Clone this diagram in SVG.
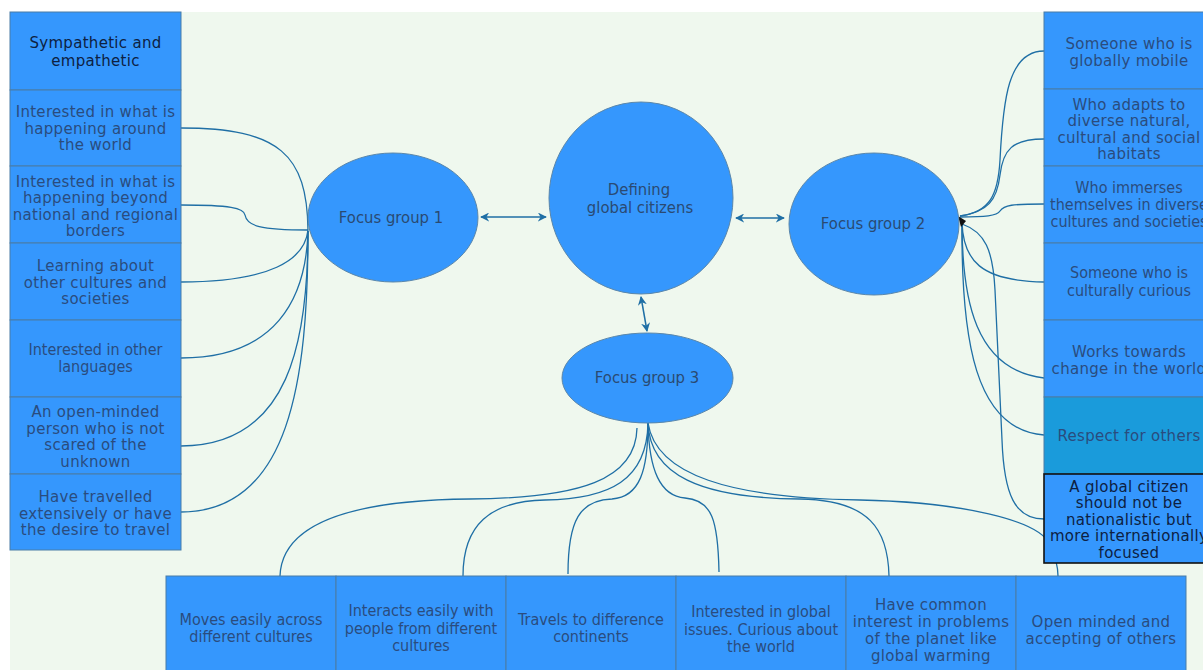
<svg xmlns="http://www.w3.org/2000/svg" width="1203" height="670" viewBox="0 0 1203 670">
  <defs>
    <style>
      .bg { fill: #eff8ee; }
      .box { fill: #3597fd; stroke: #4a7ca6; stroke-width: 1; }
      .box-teal { fill: #1a9bdb; stroke: #4a7ca6; stroke-width: 1; }
      .box-dark { fill: #3597fd; stroke: #111111; stroke-width: 1.6; }
      .oval { fill: #3597fd; stroke: #5b87aa; stroke-width: 1; }
      .wire { fill: none; stroke: #1f6fa5; stroke-width: 1.3; }
      .link { fill: none; stroke: #1f6fa5; stroke-width: 1.5; }
      text { text-anchor: middle; }
      .v { font-family: "DejaVu Sans", Verdana, sans-serif; font-size: 15px; letter-spacing: 0.3px; fill: #2a4c7e; }
      .t { font-family: "DejaVu Sans Condensed", "DejaVu Sans", sans-serif; font-stretch: condensed; font-size: 16px; fill: #2a4c7e; }
      .o { font-family: "DejaVu Sans Condensed", "DejaVu Sans", sans-serif; font-stretch: condensed; font-size: 16.5px; fill: #2a4a72; }
      .dk { fill: #0d2142; }
    </style>
    <marker id="arr" viewBox="0 0 10 10" refX="9" refY="5" markerWidth="9" markerHeight="9" orient="auto-start-reverse" markerUnits="userSpaceOnUse">
      <path d="M0,0 L10,5 L0,10 L3,5 z" fill="#1f6fa5"/>
    </marker>
  </defs>

  <rect class="bg" x="10" y="12" width="1193" height="658"/>

  <!-- connectors -->
  <g id="connectors">
    <!-- centre links -->
    <line class="link" x1="481" y1="217" x2="546" y2="217" marker-start="url(#arr)" marker-end="url(#arr)"/>
    <line class="link" x1="736" y1="218" x2="784" y2="218" marker-start="url(#arr)" marker-end="url(#arr)"/>
    <line class="link" x1="641" y1="297" x2="647" y2="331" marker-start="url(#arr)" marker-end="url(#arr)"/>

    <!-- Focus group 1 bundle -->
    <path class="wire" d="M181,128 C280,128 307,155 308,230"/>
    <path class="wire" d="M181,205 C230,205 244,208 245,215 C247,226 260,230 308,230"/>
    <path class="wire" d="M308,230 C305,260 270,282 181,282"/>
    <path class="wire" d="M308,231 C306,300 275,358 181,358"/>
    <path class="wire" d="M308,231 C308,340 290,446 181,446"/>
    <path class="wire" d="M308,231 C308,380 290,512 181,512"/>

    <!-- Focus group 2 bundle -->
    <path class="wire" d="M960,216 C990,212 998,195 1000,160 C1003,100 1008,51 1044,51"/>
    <path class="wire" d="M960,216 C988,212 997,200 1000,175 C1003,150 1012,139 1044,139"/>
    <path class="wire" d="M960,217 C985,217 997,216 1000,211 C1004,205 1012,204 1044,204"/>
    <path class="wire" d="M962,222 C963,260 980,281 1044,282"/>
    <path class="wire" d="M962,222 C962,300 975,370 1044,378"/>
    <path class="wire" d="M962,222 C961,340 975,430 1044,435"/>
    <path class="wire" d="M962,224 C985,232 993,250 995,290 L1002,440 C1004,495 1015,519 1044,519"/>
    <polygon points="958,216 966,221 961,227" fill="#111111"/>

    <!-- Focus group 3 bundle -->
    <path class="wire" d="M637,428 C636,480 580,498 470,499 C360,500 282,520 280,576"/>
    <path class="wire" d="M648,423 C647,480 610,499 545,500 C490,501 463,525 463,576"/>
    <path class="wire" d="M648,423 C648,470 640,497 612,499 C580,500 568,520 568,574"/>
    <path class="wire" d="M648,423 C649,470 660,496 685,498 C712,500 718,520 719,572"/>
    <path class="wire" d="M648,423 C650,475 700,498 800,499 C870,500 888,530 889,576"/>
    <path class="wire" d="M648,423 C656,475 730,498 860,500 C960,502 1040,520 1050,545 C1056,558 1058,568 1058,576"/>
  </g>

  <!-- centre and focus groups -->
  <g id="node-defining">
    <ellipse class="oval" cx="641" cy="198" rx="92" ry="96"/>
    <text class="o" x="639" y="195">Defining</text>
    <text class="o" x="640" y="213">global citizens</text>
  </g>
  <g id="node-fg1">
    <ellipse class="oval" cx="393" cy="217.5" rx="85" ry="64.5"/>
    <text class="o" x="391" y="223">Focus group 1</text>
  </g>
  <g id="node-fg2">
    <ellipse class="oval" cx="874" cy="224" rx="85" ry="71"/>
    <text class="o" x="873" y="229">Focus group 2</text>
  </g>
  <g id="node-fg3">
    <ellipse class="oval" cx="647.5" cy="378" rx="85.5" ry="45"/>
    <text class="o" x="647" y="383">Focus group 3</text>
  </g>

  <!-- left column -->
  <g id="l1">
    <rect class="box" x="10" y="12" width="171" height="78"/>
    <text class="v dk" x="95.5" y="48">Sympathetic and</text>
    <text class="v dk" x="95.5" y="65.5">empathetic</text>
  </g>
  <g id="l2">
    <rect class="box" x="10" y="90" width="171" height="76"/>
    <text class="v" x="95.5" y="117">Interested in what is</text>
    <text class="v" x="95.5" y="133.5">happening around</text>
    <text class="v" x="95.5" y="150">the world</text>
  </g>
  <g id="l3">
    <rect class="box" x="10" y="166" width="171" height="77"/>
    <text class="v" x="95.5" y="187">Interested in what is</text>
    <text class="v" x="95.5" y="203">happening beyond</text>
    <text class="v" x="95.5" y="219.5">national and regional</text>
    <text class="v" x="95.5" y="236">borders</text>
  </g>
  <g id="l4">
    <rect class="box" x="10" y="243" width="171" height="77"/>
    <text class="v" x="95.5" y="271">Learning about</text>
    <text class="v" x="95.5" y="287.5">other cultures and</text>
    <text class="v" x="95.5" y="304">societies</text>
  </g>
  <g id="l5">
    <rect class="box" x="10" y="320" width="171" height="77"/>
    <text class="t" x="95.5" y="355">Interested in other</text>
    <text class="t" x="95.5" y="372">languages</text>
  </g>
  <g id="l6">
    <rect class="box" x="10" y="397" width="171" height="77"/>
    <text class="v" x="95.5" y="417">An open-minded</text>
    <text class="v" x="95.5" y="433.5">person who is not</text>
    <text class="v" x="95.5" y="450">scared of the</text>
    <text class="v" x="95.5" y="466.5">unknown</text>
  </g>
  <g id="l7">
    <rect class="box" x="10" y="474" width="171" height="76"/>
    <text class="v" x="95.5" y="502">Have travelled</text>
    <text class="v" x="95.5" y="518.5">extensively or have</text>
    <text class="v" x="95.5" y="535">the desire to travel</text>
  </g>

  <!-- right column -->
  <g id="r1">
    <rect class="box" x="1044" y="12" width="170" height="77"/>
    <text class="v" x="1129" y="49">Someone who is</text>
    <text class="v" x="1129" y="65.5">globally mobile</text>
  </g>
  <g id="r2">
    <rect class="box" x="1044" y="89" width="170" height="77"/>
    <text class="v" x="1129" y="109.5">Who adapts to</text>
    <text class="v" x="1129" y="126">diverse natural,</text>
    <text class="v" x="1129" y="142.5">cultural and social</text>
    <text class="v" x="1129" y="159">habitats</text>
  </g>
  <g id="r3">
    <rect class="box" x="1044" y="166" width="170" height="77"/>
    <text class="t" x="1129" y="193">Who immerses</text>
    <text class="t" x="1129" y="210">themselves in diverse</text>
    <text class="t" x="1129" y="227">cultures and societies</text>
  </g>
  <g id="r4">
    <rect class="box" x="1044" y="243" width="170" height="77"/>
    <text class="t" x="1129" y="278">Someone who is</text>
    <text class="t" x="1129" y="295.5">culturally curious</text>
  </g>
  <g id="r5">
    <rect class="box" x="1044" y="320" width="170" height="77"/>
    <text class="v" x="1129" y="357">Works towards</text>
    <text class="v" x="1129" y="373.5">change in the world</text>
  </g>
  <g id="r6">
    <rect class="box-teal" x="1044" y="397" width="170" height="77"/>
    <text class="v" x="1129" y="441">Respect for others</text>
  </g>
  <g id="r7">
    <rect class="box-dark" x="1044" y="474" width="170" height="89"/>
    <text class="v dk" x="1129" y="491.5">A global citizen</text>
    <text class="v dk" x="1129" y="508">should not be</text>
    <text class="v dk" x="1129" y="524.5">nationalistic but</text>
    <text class="v dk" x="1129" y="541">more internationally</text>
    <text class="v dk" x="1129" y="557.5">focused</text>
  </g>

  <!-- bottom row -->
  <g id="b1">
    <rect class="box" x="166" y="576" width="170" height="100"/>
    <text class="t" x="251" y="625">Moves easily across</text>
    <text class="t" x="251" y="642">different cultures</text>
  </g>
  <g id="b2">
    <rect class="box" x="336" y="576" width="170" height="100"/>
    <text class="t" x="421" y="616">Interacts easily with</text>
    <text class="t" x="421" y="634">people from  different</text>
    <text class="t" x="421" y="651">cultures</text>
  </g>
  <g id="b3">
    <rect class="box" x="506" y="576" width="170" height="100"/>
    <text class="t" x="591" y="625">Travels to difference</text>
    <text class="t" x="591" y="642">continents</text>
  </g>
  <g id="b4">
    <rect class="box" x="676" y="576" width="170" height="100"/>
    <text class="t" x="761" y="617">Interested in global</text>
    <text class="t" x="761" y="635">issues. Curious about</text>
    <text class="t" x="761" y="652">the world</text>
  </g>
  <g id="b5">
    <rect class="box" x="846" y="576" width="170" height="100"/>
    <text class="v" x="931" y="609.5">Have common</text>
    <text class="v" x="931" y="626.5">interest in problems</text>
    <text class="v" x="931" y="643.5">of the planet like</text>
    <text class="v" x="931" y="660.5">global warming</text>
  </g>
  <g id="b6">
    <rect class="box" x="1016" y="576" width="170" height="100"/>
    <text class="v" x="1101" y="627">Open minded and</text>
    <text class="v" x="1101" y="644">accepting of others</text>
  </g>
</svg>
